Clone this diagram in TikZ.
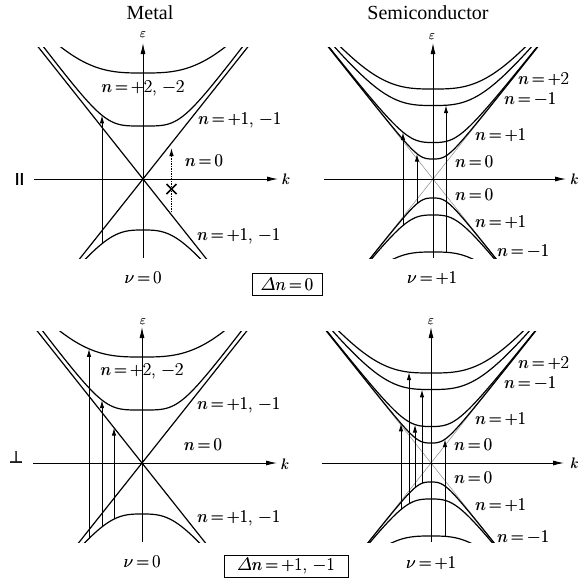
\RequirePackage{fix-cm}
\documentclass[tikz,border=0pt]{standalone}
\usepackage{amsmath}
\usepackage{fontspec}
\newfontfamily\titlefont{Liberation Serif}
\newfontface\symfont{DejaVu Sans}[FakeBold=2]
\usetikzlibrary{arrows.meta}

% band curve: eps = a (1 + (s|k|/a)^p)^(1/p)
\pgfmathdeclarefunction{bnd}{4}{\pgfmathparse{#1*(1+(#4*abs(#2)/#1+0.0001)^#3)^(1/#3)}}
% slightly heavier text: print twice with a tiny offset
\newcommand{\fb}[1]{{\thickmuskip=3mu\relax\rlap{#1}\kern0.4pt#1}}

\tikzset{
  crv/.style={line width=1.2pt},
  asy/.style={line width=0.5pt, black!45},
  ax/.style={line width=0.9pt, -{Latex[length=11pt,width=5pt]}},
  trn/.style={line width=1pt, -{Latex[length=8pt,width=4.5pt]}},
  dottrn/.style={line width=1pt, dash pattern=on 1.2pt off 1.3pt, -{Latex[length=8pt,width=4.5pt]}},
  lbl/.style={font=\fontsize{18}{20}\selectfont, inner sep=0pt},
  small/.style={font=\fontsize{13}{15}\selectfont, inner sep=0pt},
  ttl/.style={font=\titlefont\fontsize{20}{22}\selectfont, inner sep=0pt},
  sym/.style={font=\symfont\fontsize{16}{18}\selectfont, inner sep=0pt},
  boxlbl/.style={draw, line width=0.6pt, font=\fontsize{18}{20}\selectfont, inner sep=0pt},
  metal/.pic={
    \begin{scope}
      \clip (-12,-7.9) rectangle (12,13.15);
      \draw[crv] (-11,-13.86) -- (11,13.86);
      \draw[crv] (-11,13.86) -- (11,-13.86);
      \draw[crv] plot[domain=-11:11,samples=111,smooth] (\x,{bnd(5.3,\x,4,1.32)});
      \draw[crv] plot[domain=-11:11,samples=111,smooth] (\x,{bnd(10.6,\x,3,1.26)});
      \draw[crv] plot[domain=-11:11,samples=111,smooth] (\x,{-bnd(5.1,\x,3,1.26)});
    \end{scope}
    \draw[ax] (-10.9,0) -- (13.5,0);
    \draw[ax] (0,-7.9) -- (0,13.6);
  },
  semi/.pic={
    \begin{scope}
      \clip (-12,-7.9) rectangle (12,13.15);
      \draw[asy] (-11,-13.86) -- (11,13.86);
      \draw[asy] (-11,13.86) -- (11,-13.86);
      \foreach \a in {2.0,3.65,7.35,9.0}{
        \draw[crv] plot[domain=-11:11,samples=111,smooth] (\x,{bnd(\a,\x,3,1.26)});
      }
      \foreach \a in {1.9,3.6,7.3}{
        \draw[crv] plot[domain=-11:11,samples=111,smooth] (\x,{-bnd(\a,\x,3,1.26)});
      }
    \end{scope}
    \draw[ax] (-10.9,0) -- (13.3,0);
    \draw[ax] (0,-7.9) -- (0,13.6);
  }
}

\begin{document}
\begin{tikzpicture}
\path[use as bounding box, fill=white] (0,0) rectangle (578pt,-582pt);

% titles and polarisation marks
\node[ttl] (tmet) at (150pt,-13pt) {Metal};
\node[ttl] (tsem) at (428pt,-13pt) {Semiconductor};
\node[sym] (par) at (19.5pt,-179pt) {II};
\node[sym] (perp) at (16pt,-457pt) {⊥};

% ---------------- top left: metal, parallel ----------------
\begin{scope}[shift={(143pt,-179pt)},x=10pt,y=10pt]
  \pic {metal};
  \coordinate (tla) at (-4.1,{-bnd(5.1,-4.1,3,1.26)});
  \coordinate (tlb) at (-4.1,{bnd(5.3,-4.1,4,1.32)});
  \draw[trn] (tla) -- (tlb);
  \coordinate (tlc) at (2.85,-3.3);
  \coordinate (tld) at (2.85,3.1);
  \draw[dottrn] (tlc) -- (tld);
  \coordinate (tlx) at (2.85,-1.0);
  \draw[line width=1.5pt] ([shift={(-0.5,0.5)}]tlx) -- ([shift={(0.5,-0.5)}]tlx);
  \draw[line width=1.5pt] ([shift={(-0.5,-0.5)}]tlx) -- ([shift={(0.5,0.5)}]tlx);
\end{scope}
\node[small] (tleps) at (143pt,-35pt) {\fb{$\varepsilon$}};
\node[small, font=\fontsize{15}{17}\selectfont] (tlk) at (286pt,-179pt) {\fb{$k$}};
\node[lbl] (tl2) at (143pt,-88pt) {\fb{$n=+2$, $-2$}};
\node[lbl, anchor=west] (tl1u) at (198pt,-120pt) {\fb{$n=+1$, $-1$}};
\node[lbl] (tl0) at (204pt,-161pt) {\fb{$n=0$}};
\node[lbl, anchor=west] (tl1l) at (197pt,-236pt) {\fb{$n=+1$, $-1$}};
\node[lbl] (tlnu) at (143pt,-278pt) {\fb{$\nu=0$}};
\node[boxlbl, minimum width=70pt, minimum height=22pt] (box1) at (287pt,-284pt) {\fb{$\varDelta n=0$}};

% ---------------- top right: semiconductor, parallel ----------------
\begin{scope}[shift={(433pt,-179pt)},x=10pt,y=10pt]
  \pic {semi};
  \coordinate (tra1) at (-3,{-bnd(3.6,-3,3,1.26)});
  \coordinate (trb1) at (-3,{bnd(3.65,-3,3,1.26)});
  \coordinate (tra2) at (-1.6,{-bnd(1.9,-1.6,3,1.26)});
  \coordinate (trb2) at (-1.6,{bnd(2.0,-1.6,3,1.26)});
  \coordinate (tra3) at (1.3,{-bnd(7.3,1.3,3,1.26)});
  \coordinate (trb3) at (1.3,{bnd(7.35,1.3,3,1.26)});
  \draw[trn] (tra1) -- (trb1);
  \draw[trn] (tra2) -- (trb2);
  \draw[trn] (tra3) -- (trb3);
\end{scope}
\node[small] (treps) at (432pt,-37pt) {\fb{$\varepsilon$}};
\node[small, font=\fontsize{15}{17}\selectfont, anchor=west] (trk) at (570pt,-179pt) {\fb{$k$}};
\node[lbl, anchor=west] (tr2) at (518pt,-79.5pt) {\fb{$n=+2$}};
\node[lbl, anchor=west] (trm1) at (504pt,-99pt) {\fb{$n=-1$}};
\node[lbl, anchor=west] (trp1) at (475pt,-135pt) {\fb{$n=+1$}};
\node[lbl, anchor=west] (tr0) at (455pt,-162pt) {\fb{$n=0$}};
\node[lbl, anchor=west] (tr0l) at (455pt,-195pt) {\fb{$n=0$}};
\node[lbl, anchor=west] (trp1l) at (475pt,-222pt) {\fb{$n=+1$}};
\node[lbl, anchor=west] (trm1l) at (497pt,-251pt) {\fb{$n=-1$}};
\node[lbl] (trnu) at (432pt,-278pt) {\fb{$\nu=+1$}};

% ---------------- bottom left: metal, perpendicular ----------------
\begin{scope}[shift={(142pt,-463pt)},x=10pt,y=10pt]
  \pic {metal};
  \coordinate (bla1) at (-5.3,{-bnd(5.1,-5.3,3,1.26)});
  \coordinate (blb1) at (-5.3,{bnd(10.6,-5.3,3,1.26)});
  \coordinate (bla2) at (-4.0,{-bnd(5.1,-4.0,3,1.26)});
  \coordinate (blb2) at (-4.0,{bnd(5.3,-4.0,4,1.32)});
  \coordinate (bla3) at (-2.8,{-bnd(5.1,-2.8,3,1.26)});
  \coordinate (blb3) at (-2.8,3.528);
  \draw[trn] (bla1) -- (blb1);
  \draw[trn] (bla2) -- (blb2);
  \draw[trn] (bla3) -- (blb3);
\end{scope}
\node[small] (bleps) at (143pt,-322pt) {\fb{$\varepsilon$}};
\node[small, font=\fontsize{15}{17}\selectfont] (blk) at (285pt,-464pt) {\fb{$k$}};
\node[lbl] (bl2) at (142pt,-371pt) {\fb{$n=+2$, $-2$}};
\node[lbl, anchor=west] (bl1u) at (197pt,-405pt) {\fb{$n=+1$, $-1$}};
\node[lbl] (bl0) at (203pt,-445pt) {\fb{$n=0$}};
\node[lbl, anchor=west] (bl1l) at (197pt,-518pt) {\fb{$n=+1$, $-1$}};
\node[lbl] (blnu) at (142pt,-562pt) {\fb{$\nu=0$}};
\node[boxlbl, minimum width=124pt, minimum height=22pt] (box2) at (286pt,-566pt) {\fb{$\varDelta n=+1$, $-1$}};

% ---------------- bottom right: semiconductor, perpendicular ----------------
\begin{scope}[shift={(431pt,-463pt)},x=10pt,y=10pt]
  \pic {semi};
  \coordinate (bra1) at (-3.0,{-bnd(3.6,-3.0,3,1.26)});
  \coordinate (brb1) at (-3.0,{bnd(2.0,-3.0,3,1.26)});
  \coordinate (bra2) at (-2.2,{-bnd(3.6,-2.2,3,1.26)});
  \coordinate (brb2) at (-2.2,{bnd(9.0,-2.2,3,1.26)});
  \coordinate (bra3) at (-1.6,{-bnd(1.9,-1.6,3,1.26)});
  \coordinate (brb3) at (-1.6,{bnd(3.65,-1.6,3,1.26)});
  \coordinate (bra4) at (-0.9,{-bnd(1.9,-0.9,3,1.26)});
  \coordinate (brb4) at (-0.9,{bnd(7.35,-0.9,3,1.26)});
  \coordinate (bra5) at (1.4,{-bnd(7.3,1.4,3,1.26)});
  \coordinate (brb5) at (1.4,{bnd(2.0,1.4,3,1.26)});
  \foreach \i in {1,...,5}{\draw[trn] (bra\i) -- (brb\i);}
\end{scope}
\node[small] (breps) at (431pt,-322pt) {\fb{$\varepsilon$}};
\node[small, font=\fontsize{15}{17}\selectfont, anchor=west] (brk) at (570pt,-463pt) {\fb{$k$}};
\node[lbl, anchor=west] (br2) at (518pt,-363pt) {\fb{$n=+2$}};
\node[lbl, anchor=west] (brm1) at (504pt,-383.5pt) {\fb{$n=-1$}};
\node[lbl, anchor=west] (brp1) at (475pt,-419pt) {\fb{$n=+1$}};
\node[lbl, anchor=west] (br0) at (454pt,-445pt) {\fb{$n=0$}};
\node[lbl, anchor=west] (br0l) at (454pt,-478pt) {\fb{$n=0$}};
\node[lbl, anchor=west] (brp1l) at (475pt,-505pt) {\fb{$n=+1$}};
\node[lbl, anchor=west] (brm1l) at (497pt,-537pt) {\fb{$n=-1$}};
\node[lbl] (brnu) at (431pt,-563pt) {\fb{$\nu=+1$}};
\end{tikzpicture}
\end{document}
